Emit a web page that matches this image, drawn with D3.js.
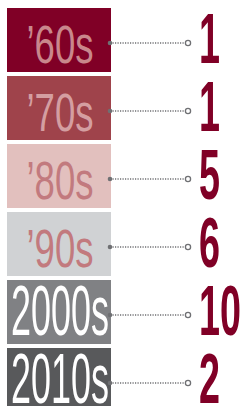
<!DOCTYPE html>
<meta charset="utf-8">
<style>
body { margin: 0; background: #fff; }
text { font-family: "Liberation Sans", Arimo, sans-serif; }
</style>
<svg width="243" height="406"></svg>
<script src="https://d3js.org/d3.v7.min.js"></script>
<script>

var decades = ["\u201960s", "\u201970s", "\u201980s", "\u201990s", "2000s", "2010s"];
var counts = [1, 1, 5, 6, 10, 2];
var boxColors = ["#800026", "#9f434b", "#e2c0be", "#d0d2d4", "#808184", "#58595b"];
var labelColors = ["#c9878c", "#d49ea1", "#c27a7e", "#c27a7e", "#ffffff", "#ffffff"];

var svg = d3.select("svg");

var y = d3.scaleBand()
    .domain(decades)
    .range([8, 412])
    .paddingInner(4 / 68);

var boxLeft = 7, boxW = 104;
var dotX1 = 110, dotX2 = 188, numX = 199;

function isShort(d) { return d.charAt(0) === "\u2019"; }

var rows = svg.selectAll("g.row")
    .data(decades)
    .enter().append("g")
      .attr("class", "row")
      .attr("transform", function(d) { return "translate(0," + y(d) + ")"; });

rows.append("rect")
    .attr("x", boxLeft)
    .attr("width", boxW)
    .attr("height", y.bandwidth())
    .attr("fill", function(d, i) { return boxColors[i]; });

// decade label, squeezed horizontally to fit the box
rows.append("text")
    .attr("text-anchor", "middle")
    .attr("font-size", function(d) { return isShort(d) ? 53 : 70; })
    .attr("fill", function(d, i) { return labelColors[i]; })
    .text(function(d) { return d; })
    .each(function(d) {
      var w = this.getComputedTextLength();
      var target = isShort(d) ? 67 : boxW - 6;
      d3.select(this).attr("transform",
        "translate(" + (boxLeft + boxW / 2 + 1) + ",55) scale(" + (target / w) + ",1)");
    });

// dotted leader
rows.append("line")
    .attr("x1", dotX1).attr("x2", dotX2)
    .attr("y1", 35).attr("y2", 35)
    .attr("stroke", "#6f7073")
    .attr("stroke-width", 1.3)
    .attr("stroke-dasharray", "1.2,1.3");

rows.append("circle")
    .attr("cx", dotX1).attr("cy", 35).attr("r", 2.3)
    .attr("fill", "#6f7073");

rows.append("circle")
    .attr("cx", dotX2).attr("cy", 35).attr("r", 2.6)
    .attr("fill", "#fff")
    .attr("stroke", "#6f7073")
    .attr("stroke-width", 1.3);

// counts: condensed so one digit is about 21px wide
var numText = rows.append("text")
    .attr("font-size", 70)
    .attr("font-weight", "bold")
    .attr("fill", "#800026")
    .text(function(d, i) { return counts[i]; });

var probe = svg.append("text").attr("font-size", 70).attr("font-weight", "bold").text("0");
var numScale = 21 / probe.node().getComputedTextLength();
probe.remove();

numText.attr("transform", "translate(" + numX + ",55) scale(" + numScale + ",1)");

</script>
